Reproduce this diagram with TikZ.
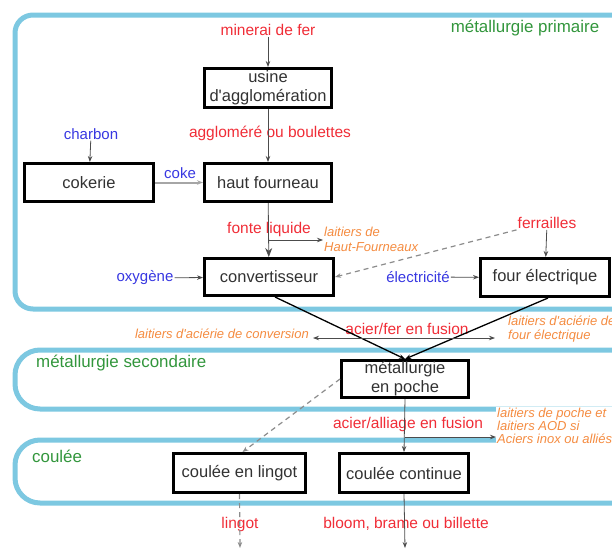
\documentclass[tikz,border=0pt]{standalone}
\usepackage{fontspec}
\setmainfont{Liberation Sans}
\usepackage{xcolor}
\usepackage{tikz}
\usetikzlibrary{arrows.meta}
\definecolor{bandblue}{RGB}{125,200,225}
\definecolor{txtred}{RGB}{240,45,55}
\definecolor{txtblue}{RGB}{55,55,225}
\definecolor{txtgreen}{RGB}{50,150,60}
\definecolor{txtorange}{RGB}{245,140,65}
\definecolor{boxtext}{RGB}{50,50,50}
\tikzset{>={Stealth[length=6pt,width=4.5pt]}}

\begin{document}
\begin{tikzpicture}[x=1pt, y=-1pt,
        box/.style={draw, line width=3pt, text=boxtext, align=center, inner sep=0pt,
            font=\fontsize{16.5}{19}\selectfont},
        band/.style={draw=bandblue, line width=5pt},
        prod/.style={text=txtred, inner sep=1pt, font=\fontsize{15.5}{18}\selectfont},
        inp/.style={text=txtblue, inner sep=1pt, font=\fontsize{15}{18}\selectfont},
        zone/.style={text=txtgreen, inner sep=0pt, font=\fontsize{16.9}{20}\selectfont},
        slag/.style={text=txtorange, fill=white, align=left, inner sep=1pt,
            font=\fontsize{13}{14.5}\selectfont\itshape},
        flow/.style={draw=black!70, line width=0.8pt, ->},
        dashflow/.style={draw=black!45, line width=1.2pt, dash pattern=on 5pt off 4pt, ->}]
        \clip (0,0) rectangle (612,549);

        % Zones
        \draw[band, rounded corners=18] (15,15) rectangle (660,309);
        \draw[band, rounded corners=25] (15,350) rectangle (660,409);
        \draw[band, rounded corners=25] (15,440) rectangle (660,503);
        \node[zone] (prim) at (525,28) {métallurgie primaire};
        \node[zone, anchor=west] (sec) at (36,363) {métallurgie secondaire};
        \node[zone, anchor=west] (cast) at (32,456) {coulée};

        % Primary steelmaking
        \node[box, minimum width=127, minimum height=39] (usine) at (268,88) {usine\\d\textquotesingle agglomération};
        \node[box, minimum width=129, minimum height=38] (cokerie) at (89,182.5) {cokerie};
        \node[box, minimum width=127, minimum height=38] (hautf) at (268,182.5) {haut fourneau};
        \node[box, minimum width=129, minimum height=37] (conv) at (269,277) {convertisseur};
        \node[box, minimum width=129, minimum height=38] (four) at (545,277.5) {four électrique};

        \node[prod] (minerai) at (268,30) {minerai de fer};
        \node[prod] (aggl) at (270,133) {aggloméré ou boulettes};
        \node[inp] (charbon) at (91,134) {charbon};
        \node[inp] (coke) at (180,173) {coke};
        \node[prod] (fonte) at (269,229) {fonte liquide};
        \node[slag, anchor=west] (laitHF) at (323,239.5) {laitiers de\\Haut-Fourneaux};
        \node[prod] (ferr) at (547,223) {ferrailles};
        \node[inp] (oxy) at (145,278) {oxygène};
        \node[inp] (elec) at (418,277) {électricité};

        \draw[flow] (minerai) -- (usine);
        \draw[flow] (usine) -- (hautf);
        \draw[flow] (charbon) -- (cokerie);
        \draw[flow, draw=black!35, line width=2pt] (cokerie) -- (hautf);
        \draw[flow, >={Stealth[length=9pt,width=7pt]}] (hautf) -- (conv);
        \coordinate (brHF) at (268,240);
        \draw[flow] (brHF) -- (laitHF.west |- brHF);
        \draw[flow] (ferr) -- (four);
        \draw[dashflow] (ferr.south west) -- (conv.east);
        \draw[flow] (oxy) -- (conv);
        \draw[flow] (elec) -- (four);

        % Secondary steelmaking
        \node[box, minimum width=127, minimum height=37] (poche) at (405,379) {métallurgie\\en poche};
        \node[prod] (acierfer) at (407,329) {acier/fer en fusion};
        \node[slag, anchor=east] (laitconv) at (310,334) {laitiers d\textquotesingle aciérie de conversion};
        \node[slag, anchor=west] (laitfour) at (507,329) {laitiers d\textquotesingle aciérie de\\four électrique};

        \draw[->, line width=1.3pt] ([xshift=6]conv.south) -- (poche.north);
        \draw[->, line width=1.3pt] ([xshift=3]four.south) -- (poche.north);
        \coordinate (fusL) at (313,338);
        \coordinate (fusR) at (495,338);
        \draw[flow, <->] (fusL) -- (fusR);

        % Casting
        \node[box, minimum width=132, minimum height=39] (lingotb) at (239.5,473) {coulée en lingot};
        \node[box, minimum width=129, minimum height=39] (contb) at (404,473) {coulée continue};
        \node[prod] (acieral) at (408,424) {acier/alliage en fusion};
        \node[slag, anchor=west, font=\fontsize{13}{13}\selectfont\itshape] (laitpoche) at (496,426)
            {laitiers de poche et\\laitiers AOD si\\Aciers inox ou alliés};
        \node[prod] (lingot) at (240,524) {lingot};
        \node[prod] (bloom) at (406,524) {bloom, brame ou billette};

        \draw[flow] (poche.south) -- (contb.north);
        \coordinate (brP) at (405,437);
        \draw[flow] (brP) -- (laitpoche.west |- brP);
        \draw[dashflow] (poche.west) -- ([xshift=3]lingotb.north);
        \coordinate (endL) at (240,548);
        \coordinate (endC) at (405,548);
        \draw[dashflow] (lingotb.south) -- (endL);
        \draw[flow] (contb.south) -- (endC);
    \end{tikzpicture}
\end{document}
